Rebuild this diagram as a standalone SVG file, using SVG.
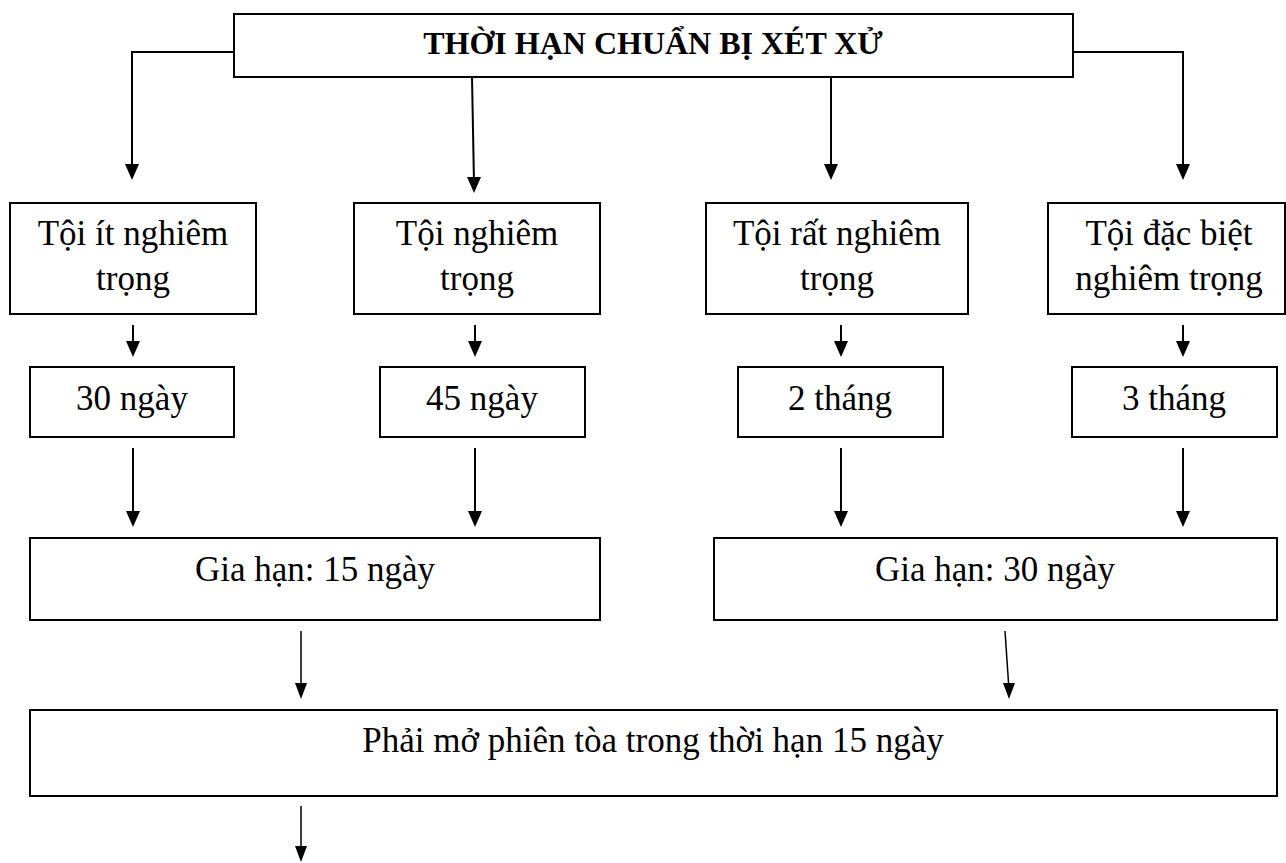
<svg xmlns="http://www.w3.org/2000/svg" width="1286" height="863" viewBox="0 0 1286 863">
<style>
.box{fill:#fff;stroke:#000;stroke-width:2}
.t{font-family:"Liberation Serif","Times New Roman",serif;font-size:35px;fill:#000;text-anchor:middle}
.b{font-weight:bold;font-size:32px}
.c{fill:none;stroke:#000;stroke-width:2}
.c2{fill:none;stroke:#000;stroke-width:1.5}
</style>
<rect width="1286" height="863" fill="#fff"/>
<g id="connectors">
<path class="c" d="M234,52 H132 V170"/>
<path class="c" d="M472,77 L474,183"/>
<path class="c" d="M831,77 V170"/>
<path class="c" d="M1073,52 H1183 V170"/>
<path class="c" d="M133,325 V346"/>
<path class="c" d="M475,325 V346"/>
<path class="c" d="M841,325 V346"/>
<path class="c" d="M1183,325 V346"/>
<path class="c" d="M133,448 V517"/>
<path class="c" d="M475,448 V517"/>
<path class="c" d="M841,448 V517"/>
<path class="c" d="M1183,448 V517"/>
<path class="c2" d="M301,631 V690"/>
<path class="c2" d="M1005,631 L1009,690"/>
<path class="c2" d="M301,806 V852"/>
<g fill="#000">
<path d="M125,164 H139 L132,180 Z"/>
<path d="M467,177 H481 L474,193 Z"/>
<path d="M824,164 H838 L831,180 Z"/>
<path d="M1176,164 H1190 L1183,180 Z"/>
<path d="M126,341 H140 L133,357 Z"/>
<path d="M468,341 H482 L475,357 Z"/>
<path d="M834,341 H848 L841,357 Z"/>
<path d="M1176,341 H1190 L1183,357 Z"/>
<path d="M126,511 H140 L133,527 Z"/>
<path d="M468,511 H482 L475,527 Z"/>
<path d="M834,511 H848 L841,527 Z"/>
<path d="M1176,511 H1190 L1183,527 Z"/>
<path d="M295,683 H307 L301,699 Z"/>
<path d="M1003,683 H1015 L1009,699 Z"/>
<path d="M295,846 H307 L301,862 Z"/>
</g>
</g>
<g id="title"><rect class="box" x="234" y="14" width="839" height="63"/><text class="t b" x="653" y="54">THỜI HẠN CHUẨN BỊ XÉT XỬ</text></g>
<g id="n1"><rect class="box" x="10" y="203" width="246" height="111"/><text class="t" x="133" y="245">Tội ít nghiêm</text><text class="t" x="133" y="290">trọng</text></g>
<g id="n2"><rect class="box" x="354" y="203" width="246" height="111"/><text class="t" x="477" y="245">Tội nghiêm</text><text class="t" x="477" y="290">trọng</text></g>
<g id="n3"><rect class="box" x="706" y="203" width="262" height="111"/><text class="t" x="837" y="245">Tội rất nghiêm</text><text class="t" x="837" y="290">trọng</text></g>
<g id="n4"><rect class="box" x="1048" y="203" width="237" height="111"/><text class="t" x="1169" y="245">Tội đặc biệt</text><text class="t" x="1169" y="290">nghiêm trọng</text></g>
<g id="d1"><rect class="box" x="30" y="367" width="204" height="70"/><text class="t" x="132" y="410">30 ngày</text></g>
<g id="d2"><rect class="box" x="380" y="367" width="205" height="70"/><text class="t" x="482" y="410">45 ngày</text></g>
<g id="d3"><rect class="box" x="738" y="367" width="205" height="70"/><text class="t" x="840" y="410">2 tháng</text></g>
<g id="d4"><rect class="box" x="1072" y="367" width="205" height="70"/><text class="t" x="1174" y="410">3 tháng</text></g>
<g id="g1"><rect class="box" x="30" y="538" width="570" height="82"/><text class="t" x="315" y="581">Gia hạn: 15 ngày</text></g>
<g id="g2"><rect class="box" x="714" y="538" width="563" height="82"/><text class="t" x="995" y="581">Gia hạn: 30 ngày</text></g>
<g id="final"><rect class="box" x="30" y="710" width="1247" height="86"/><text class="t" x="653" y="752">Phải mở phiên tòa trong thời hạn 15 ngày</text></g>
</svg>
